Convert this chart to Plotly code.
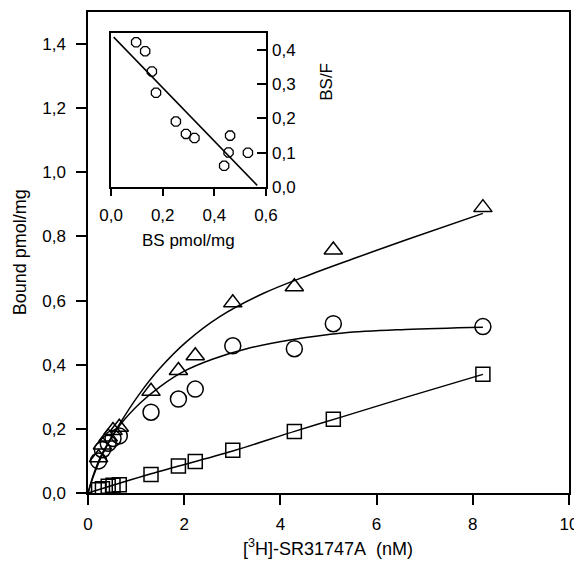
import plotly.graph_objects as go

# ---- main plot data ----
conc = [0.22, 0.30, 0.42, 0.52, 0.65, 1.31, 1.88, 2.23, 3.01, 4.29, 5.10, 8.21]
total = [0.11, 0.15, 0.175, 0.195, 0.205, 0.317, 0.382, 0.428, 0.593, 0.643, 0.758, 0.890]
specific = [0.10, 0.135, 0.155, 0.17, 0.178, 0.252, 0.293, 0.324, 0.459, 0.450, 0.528, 0.519]
nonspecific = [0.01, 0.013, 0.021, 0.024, 0.026, 0.058, 0.084, 0.098, 0.133, 0.192, 0.230, 0.370]

# fitted curves
total_fit_x = [0, 0.12, 0.3, 0.66, 1.075, 1.49, 2.05, 2.74, 3.64, 4.6, 5.6, 6.62, 8.21]
total_fit_y = [0, 0.055, 0.12, 0.216, 0.31, 0.388, 0.472, 0.550, 0.622, 0.680, 0.735, 0.790, 0.872]
spec_fit_x = [0, 0.12, 0.3, 0.66, 1.08, 1.5, 2.0, 2.6, 3.3, 4.2, 5.3, 6.6, 8.21]
spec_fit_y = [0, 0.06, 0.125, 0.211, 0.280, 0.332, 0.380, 0.418, 0.450, 0.477, 0.499, 0.510, 0.517]
ns_fit_x = [0, 1.31, 3.01, 4.31, 5.23, 6.62, 8.21]
ns_fit_y = [0, 0.060, 0.131, 0.193, 0.235, 0.299, 0.370]

# ---- inset (Scatchard) data ----
bs = [0.097, 0.132, 0.158, 0.174, 0.251, 0.290, 0.323, 0.438, 0.455, 0.461, 0.530]
bsf = [0.422, 0.396, 0.337, 0.275, 0.191, 0.155, 0.143, 0.062, 0.101, 0.150, 0.100]
reg_x = [0.01, 0.566]
reg_y = [0.437, 0.005]

main_ticks_x = [0, 2, 4, 6, 8, 10]
main_ticks_y = [0.0, 0.2, 0.4, 0.6, 0.8, 1.0, 1.2, 1.4]
inset_ticks_x = [0.0, 0.2, 0.4, 0.6]
inset_ticks_y = [0.0, 0.1, 0.2, 0.3, 0.4]

FONT = "Arial, Liberation Sans, Helvetica, sans-serif"
LW = 1.5

fig = go.Figure()

line_style = dict(color="black", width=LW, shape="spline", smoothing=1.0)
fig.add_trace(go.Scatter(x=total_fit_x, y=total_fit_y, mode="lines", line=line_style, showlegend=False))
fig.add_trace(go.Scatter(x=spec_fit_x, y=spec_fit_y, mode="lines", line=line_style, showlegend=False))
fig.add_trace(go.Scatter(x=ns_fit_x, y=ns_fit_y, mode="lines", line=line_style, showlegend=False))

fig.add_trace(go.Scatter(x=conc, y=total, mode="markers",
                         marker=dict(symbol="triangle-up-open", size=16, color="black", line=dict(width=LW)),
                         showlegend=False))
fig.add_trace(go.Scatter(x=conc, y=specific, mode="markers",
                         marker=dict(symbol="circle-open", size=16, color="black", line=dict(width=LW)),
                         showlegend=False))
fig.add_trace(go.Scatter(x=conc, y=nonspecific, mode="markers",
                         marker=dict(symbol="square-open", size=14, color="black", line=dict(width=LW)),
                         showlegend=False))

# inset
fig.add_trace(go.Scatter(x=reg_x, y=reg_y, mode="lines", line=dict(color="black", width=LW),
                         xaxis="x2", yaxis="y2", showlegend=False))
fig.add_trace(go.Scatter(x=bs, y=bsf, mode="markers",
                         marker=dict(symbol="octagon-open", size=10, color="black", line=dict(width=1.3)),
                         xaxis="x2", yaxis="y2", showlegend=False))

axis_common = dict(showline=True, linecolor="black", linewidth=LW, showgrid=False, zeroline=False,
                   ticks="outside", tickcolor="black", tickwidth=LW, mirror=True)

fig.update_layout(
    width=582, height=567,
    margin=dict(l=80, r=21, t=2, b=82),
    paper_bgcolor="white", plot_bgcolor="white",
    separators=",.",
    font=dict(family=FONT, color="black", size=17),
    xaxis=dict(**axis_common, range=[0, 10], tickvals=main_ticks_x, ticklen=10,
               tickfont=dict(size=17), ticklabelstandoff=5),
    yaxis=dict(**axis_common, range=[0, 1.5], tickvals=main_ticks_y, tickformat=".1f", ticklen=10,
               tickfont=dict(size=17), ticklabelstandoff=7),
    xaxis2=dict(showline=True, linecolor="black", linewidth=LW, showgrid=False, zeroline=False,
                ticks="outside", tickcolor="black", tickwidth=LW, ticklen=7, mirror=True,
                domain=[0.048, 0.370], anchor="y2", range=[0, 0.6], tickvals=inset_ticks_x,
                tickformat=".1f", tickfont=dict(size=17), ticklabelstandoff=5),
    yaxis2=dict(showline=True, linecolor="black", linewidth=LW, showgrid=False, zeroline=False,
                ticks="inside", tickcolor="black", tickwidth=LW, ticklen=9, mirror=True,
                side="right", domain=[0.636, 0.957], anchor="x2", range=[0, 0.45],
                tickvals=inset_ticks_y, tickformat=".1f", tickfont=dict(size=17), ticklabelstandoff=1),
    annotations=[
        dict(text="Bound pmol/mg", xref="paper", yref="paper", x=-0.141, y=0.501, textangle=-90,
             showarrow=False, font=dict(size=18), xanchor="center", yanchor="middle"),
        dict(text="[<sup>3</sup>H]-SR31747A\u00a0\u00a0(nM)", xref="paper", yref="paper", x=0.499, y=-0.114,
             showarrow=False, font=dict(size=18), xanchor="center", yanchor="middle"),
        dict(text="BS pmol/mg", xref="paper", yref="paper", x=0.208, y=0.524,
             showarrow=False, font=dict(size=17), xanchor="center", yanchor="middle"),
        dict(text="BS/F", xref="paper", yref="paper", x=0.497, y=0.855, textangle=-90,
             showarrow=False, font=dict(size=17), xanchor="center", yanchor="middle"),
    ],
)

fig.write_html("out.html")
